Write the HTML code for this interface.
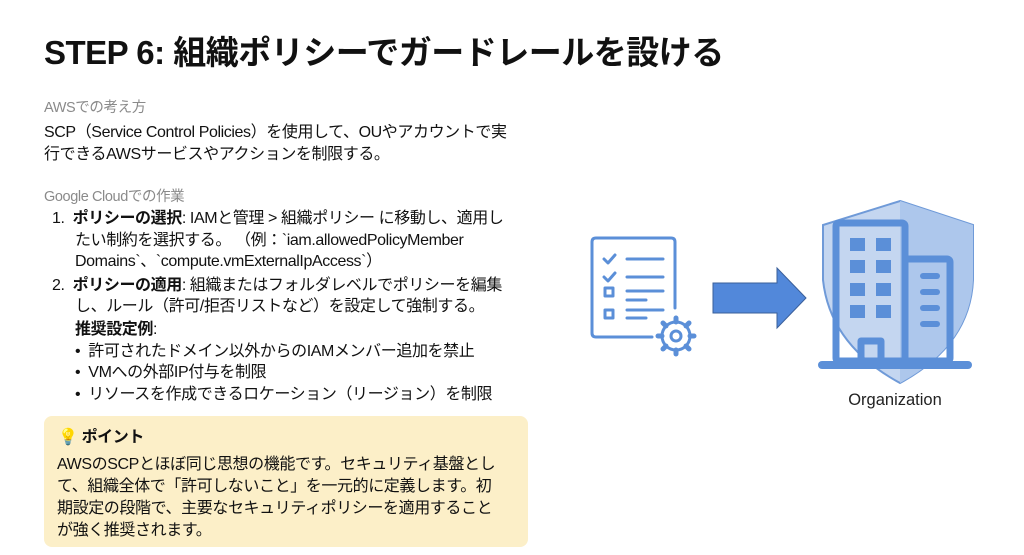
<!DOCTYPE html>
<html><head><meta charset="utf-8"><style>
body{margin:0;width:1024px;height:555px;background:#fff;position:relative;overflow:hidden;font-family:"Liberation Sans","Noto Sans CJK JP",sans-serif;color:#111}
.l{position:absolute;white-space:nowrap;font-size:16px;line-height:20px;letter-spacing:-0.4px}
.g{color:#8a8a8a;font-size:14.5px}
b{font-weight:bold}
</style></head><body>
<div class="l" style="left:44px;top:32px;font-size:33px;line-height:42px;font-weight:bold;letter-spacing:-0.5px">STEP 6: 組織ポリシーでガードレールを設ける</div>
<div class="l g" style="left:44px;top:98px">AWSでの考え方</div>
<div class="l" style="left:44px;top:123px">SCP（Service Control Policies）を使用して、OUやアカウントで実</div>
<div class="l" style="left:44px;top:145px">行できるAWSサービスやアクションを制限する。</div>
<div class="l g" style="left:44px;top:187px">Google Cloudでの作業</div>
<div class="l" style="left:52px;top:209px">1.&nbsp;&nbsp;<b>ポリシーの選択</b>: IAMと管理 &gt; 組織ポリシー に移動し、適用し</div>
<div class="l" style="left:75px;top:231px">たい制約を選択する。 （例：`iam.allowedPolicyMember</div>
<div class="l" style="left:75px;top:252px">Domains`、`compute.vmExternalIpAccess`）</div>
<div class="l" style="left:52px;top:276px">2.&nbsp;&nbsp;<b>ポリシーの適用</b>: 組織またはフォルダレベルでポリシーを編集</div>
<div class="l" style="left:75px;top:297px">し、ルール（許可/拒否リストなど）を設定して強制する。</div>
<div class="l" style="left:75px;top:320px"><b>推奨設定例</b>:</div>
<div class="l" style="left:75px;top:342px">•&nbsp; 許可されたドメイン以外からのIAMメンバー追加を禁止</div>
<div class="l" style="left:75px;top:363px">•&nbsp; VMへの外部IP付与を制限</div>
<div class="l" style="left:75px;top:385px">•&nbsp; リソースを作成できるロケーション（リージョン）を制限</div>
<div style="position:absolute;left:44px;top:416px;width:484px;height:131px;background:#fcefc8;border-radius:8px"></div>
<div class="l" style="left:58px;top:428px"><span style="color:#e8b800">💡</span> <b>ポイント</b></div>
<div class="l" style="left:57px;top:455px">AWSのSCPとほぼ同じ思想の機能です。セキュリティ基盤とし</div>
<div class="l" style="left:57px;top:477px">て、組織全体で「許可しないこと」を一元的に定義します。初</div>
<div class="l" style="left:57px;top:499px">期設定の段階で、主要なセキュリティポリシーを適用すること</div>
<div class="l" style="left:57px;top:521px">が強く推奨されます。</div>
<svg style="position:absolute;left:0;top:0" width="1024" height="555">
<g fill="none" stroke="#5b8fd8" stroke-width="3" stroke-linecap="round" stroke-linejoin="round">
<path d="M652 337 H596 Q592 337 592 333 V242 Q592 238 596 238 H671 Q675 238 675 242 V308"/>
<path d="M604 259 l4 4 l7 -8 M604 277 l4 4 l7 -8"/>
<line x1="627" y1="259" x2="663" y2="259"/><line x1="627" y1="277" x2="663" y2="277"/>
<line x1="627" y1="291" x2="663" y2="291"/><line x1="627" y1="300" x2="646" y2="300"/>
<line x1="627" y1="310" x2="663" y2="310"/><line x1="627" y1="318" x2="646" y2="318"/>
<rect x="605" y="288" width="8" height="8"/><rect x="605" y="310" width="8" height="8"/>
<circle cx="676" cy="336" r="14"/><circle cx="676" cy="336" r="5"/>
</g>
<g stroke="#5b8fd8" stroke-width="5" stroke-linecap="round">
<line x1="676" y1="318" x2="676" y2="322"/><line x1="676" y1="350" x2="676" y2="354"/>
<line x1="658" y1="336" x2="662" y2="336"/><line x1="690" y1="336" x2="694" y2="336"/>
<line x1="663" y1="323" x2="666" y2="326"/><line x1="686" y1="346" x2="689" y2="349"/>
<line x1="689" y1="323" x2="686" y2="326"/><line x1="666" y1="346" x2="663" y2="349"/>
</g>
<path d="M713 283 H777 V268 L806 298 L777 328 V313 H713 Z" fill="#5288da" stroke="#3a5f9a" stroke-width="1"/>
<path d="M900 201 L973 225 V280 Q970 345 900 383 Q830 345 823 280 V225 Z" fill="#c4d6f0" stroke="#6f9ad8" stroke-width="2"/>
<path d="M900 201 L973 225 V280 Q970 345 900 383 Z" fill="#adc7ec"/>
<g fill="none" stroke="#5b8fd8" stroke-width="7" stroke-linejoin="round">
<rect x="836" y="223" width="69" height="138" rx="3"/>
<rect x="905" y="259" width="45" height="102" rx="3"/>
<rect x="861" y="341" width="20" height="20"/>
</g>
<line x1="822" y1="365" x2="968" y2="365" stroke="#5b8fd8" stroke-width="8" stroke-linecap="round"/>
<g fill="#5b8fd8">
<rect x="850" y="238" width="15" height="13"/><rect x="876" y="238" width="15" height="13"/>
<rect x="850" y="260" width="15" height="13"/><rect x="876" y="260" width="15" height="13"/>
<rect x="850" y="283" width="15" height="13"/><rect x="876" y="283" width="15" height="13"/>
<rect x="850" y="305" width="15" height="13"/><rect x="876" y="305" width="15" height="13"/>
<rect x="920" y="273" width="20" height="6" rx="3"/><rect x="920" y="289" width="20" height="6" rx="3"/>
<rect x="920" y="305" width="20" height="6" rx="3"/><rect x="920" y="321" width="20" height="6" rx="3"/>
</g>
<text x="895" y="405" text-anchor="middle" font-family="Liberation Sans, sans-serif" font-size="16.5" fill="#222">Organization</text>
</svg>
</body></html>
